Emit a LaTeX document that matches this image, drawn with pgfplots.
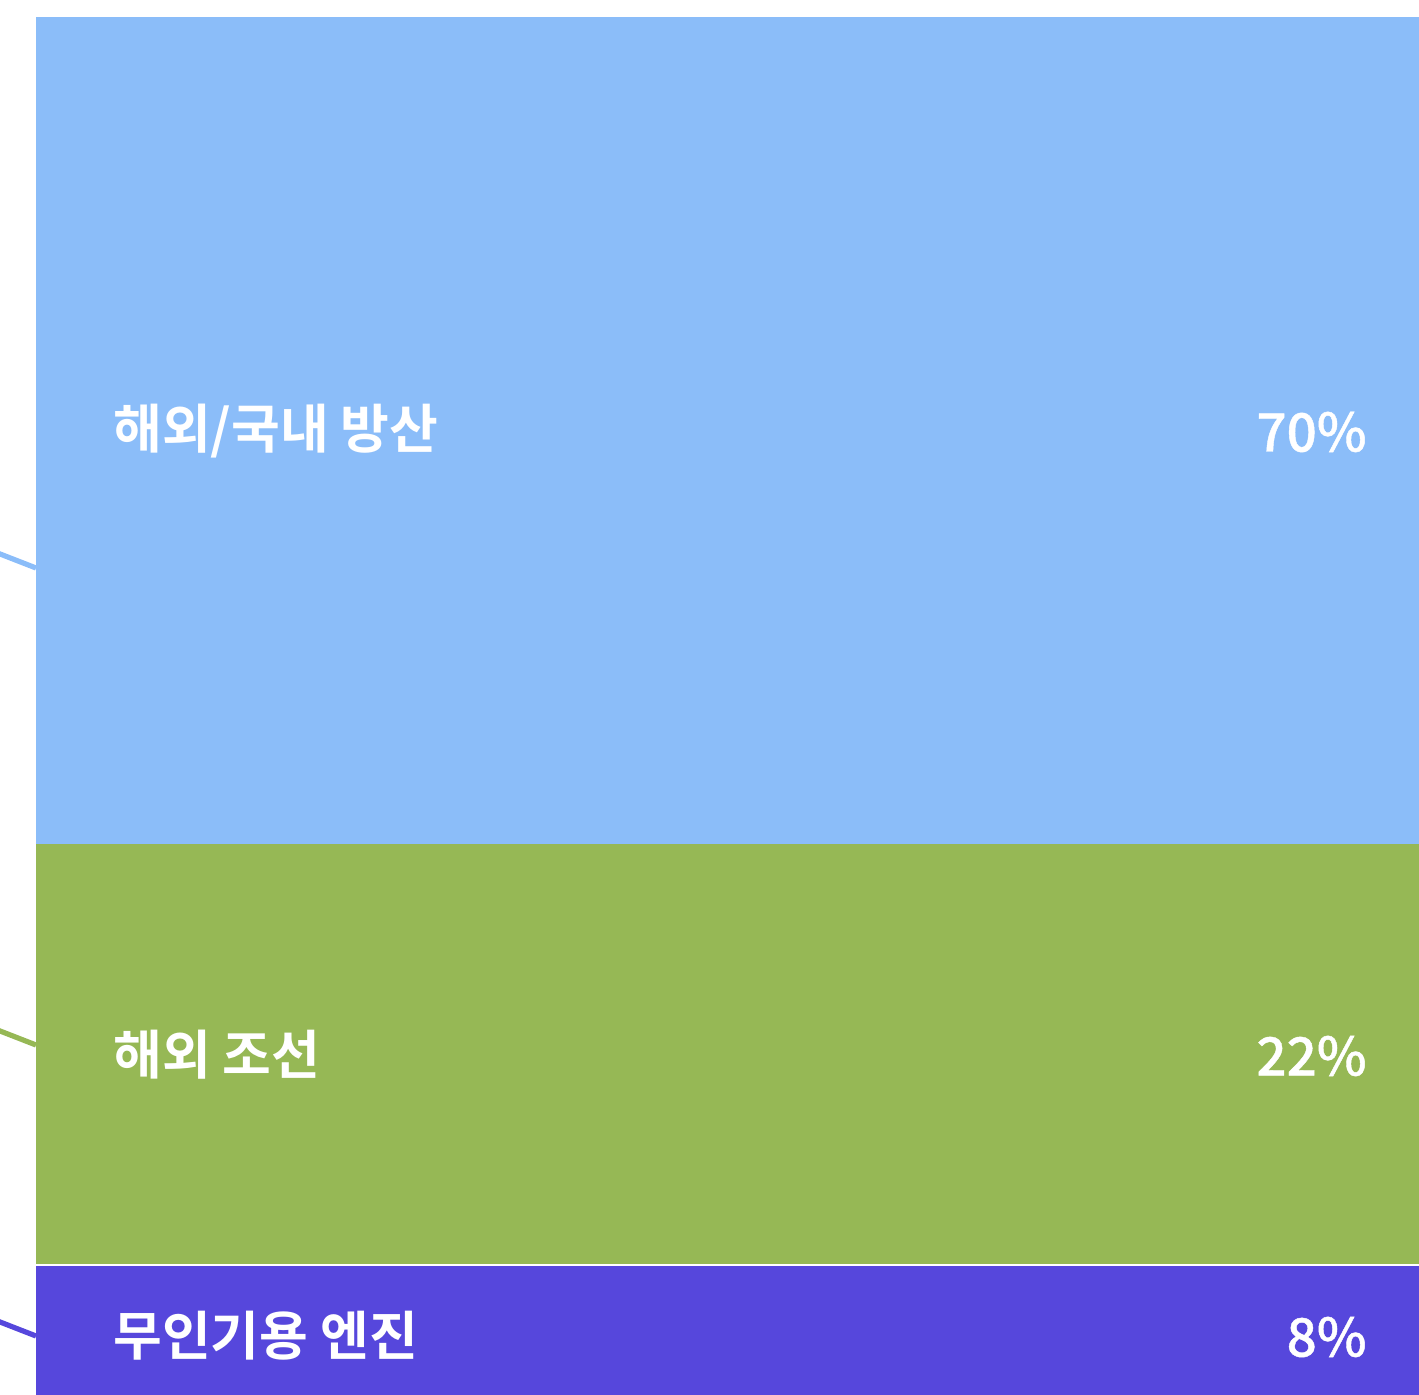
\documentclass[border=0pt]{standalone}
\usepackage{pgfplots}
\pgfplotsset{compat=1.18}
\usepackage{fontspec}
\setmainfont{Noto Sans CJK KR}
\newfontfamily\krbold{Noto Sans CJK KR}[UprightFont=* Bold]
\newfontfamily\numfont{Noto Sans CJK KR}[UprightFont=* Medium, FakeBold=0.8]
\definecolor{cblue}{HTML}{8BBDF9}
\definecolor{cgreen}{HTML}{96B855}
\definecolor{cpurple}{HTML}{5647DC}
\begin{document}
\begin{tikzpicture}
\path[use as bounding box] (0,0) rectangle (709.5bp,697.5bp);
\begin{axis}[
  at={(0,0)}, anchor=south west,
  width=709.5bp, height=697.5bp, scale only axis,
  xmin=0, xmax=1419, ymin=0, ymax=1395,
  hide axis, clip=false,
  ybar stacked, bar width=1383,
]
% visual segment heights (pixels); shares 8%, 22%, 70%
\addplot[fill=cpurple, draw=none] coordinates {(727.5,130)};
\addplot[fill=cgreen, draw=none] coordinates {(727.5,421)};
\addplot[fill=cblue, draw=none] coordinates {(727.5,827)};
\end{axis}
\begin{axis}[
  at={(0,0)}, anchor=south west,
  width=709.5bp, height=697.5bp, scale only axis,
  xmin=0, xmax=1419, ymin=0, ymax=1395,
  hide axis, clip=false,
]
\addplot[white, line width=0.6bp] coordinates {(36,130) (1419,130)};
\addplot[cblue, line width=2.6bp] coordinates {(-2,841.8) (36,827)};
\addplot[cgreen, line width=2.6bp] coordinates {(-2,364.8) (36,350)};
\addplot[cpurple, line width=2.6bp] coordinates {(-2,73.8) (36,59)};
\node[anchor=west, text=white, font=\krbold\fontsize{26.5bp}{30bp}\selectfont, inner sep=0pt] at (axis cs:113,964) {해외/국내 방산};
\node[anchor=west, text=white, font=\krbold\fontsize{26.5bp}{30bp}\selectfont, inner sep=0pt] at (axis cs:113,340) {해외 조선};
\node[anchor=west, text=white, font=\krbold\fontsize{26.5bp}{30bp}\selectfont, inner sep=0pt] at (axis cs:113,59) {무인기용 엔진};
\node[anchor=east, text=white, font=\numfont\fontsize{26.5bp}{30bp}\selectfont, inner sep=0pt] at (axis cs:1367,963) {70\%};
\node[anchor=east, text=white, font=\numfont\fontsize{26.5bp}{30bp}\selectfont, inner sep=0pt] at (axis cs:1367,339) {22\%};
\node[anchor=east, text=white, font=\numfont\fontsize{26.5bp}{30bp}\selectfont, inner sep=0pt] at (axis cs:1367,58) {8\%};
\end{axis}
\end{tikzpicture}
\end{document}
